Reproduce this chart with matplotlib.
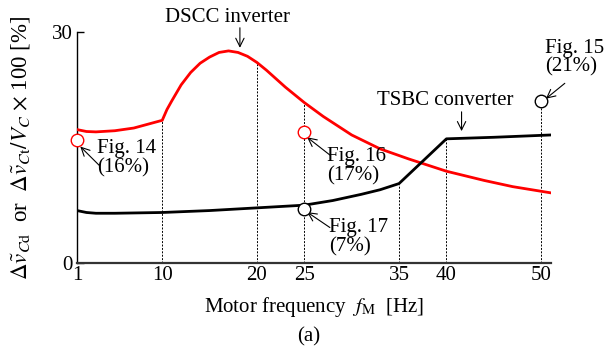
import numpy as np
import matplotlib
matplotlib.use("Agg")
import matplotlib.pyplot as plt

plt.rcParams["font.family"] = ["Liberation Serif", "DejaVu Serif"]
plt.rcParams["mathtext.fontset"] = "stix"
plt.rcParams["font.size"] = 15

# DSCC inverter ripple [%] vs motor frequency [Hz]
dscc_freq = [1, 2, 3, 5, 7, 10, 10.5, 11, 12, 13, 14, 15, 16, 17, 18, 19, 20,
             21, 22, 23, 25, 27, 30, 33, 36, 40, 44, 47, 51]
dscc_pct = [17.3, 17.05, 17.0, 17.15, 17.5, 18.5, 19.9, 21.0, 23.1, 24.7, 25.9,
            26.7, 27.3, 27.5, 27.3, 26.8, 26.0, 25.0, 23.9, 22.8, 20.8, 19.0,
            16.6, 14.8, 13.5, 11.9, 10.7, 9.9, 9.1]

# TSBC converter ripple [%]
tsbc_freq = [1, 2, 3, 5, 10, 15, 20, 25, 28, 31, 33, 35, 40, 45, 51]
tsbc_pct = [6.8, 6.55, 6.45, 6.45, 6.55, 6.8, 7.15, 7.5, 8.1, 8.9, 9.5, 10.3,
            16.1, 16.3, 16.6]

# measured operating points
fig_names = ["Fig. 14", "Fig. 15", "Fig. 16", "Fig. 17"]
fig_freq = [1, 50, 25, 25]
fig_pct = [16, 21, 17, 7]
fig_color = ["red", "black", "red", "black"]

xtick_vals = [1, 10, 20, 25, 35, 40, 50]
ytick_vals = [0, 30]

fig = plt.figure(figsize=(6.08, 3.49), dpi=100)
ax = fig.add_axes([0.1266, 0.2464, 0.779, 0.663])
ax.set_xlim(1, 51)
ax.set_ylim(0, 30)

# dotted guide lines
guides = [
    (10, np.interp(10, dscc_freq, dscc_pct)),
    (20, np.interp(20, dscc_freq, dscc_pct)),
    (25, np.interp(25, dscc_freq, dscc_pct)),
    (35, np.interp(35, tsbc_freq, tsbc_pct)),
    (40, np.interp(40, tsbc_freq, tsbc_pct)),
    (50, fig_pct[1]),
]
for gx, gtop in guides:
    ax.plot([gx, gx], [0, gtop], color="black", lw=0.7, ls=(0, (2, 1.5)), zorder=1)

ax.plot(dscc_freq, dscc_pct, color="red", lw=2.0, solid_joinstyle="round", zorder=3)
ax.plot(tsbc_freq, tsbc_pct, color="black", lw=2.0, solid_joinstyle="round", zorder=3)

for fx, fy, c in zip(fig_freq, fig_pct, fig_color):
    ax.plot(fx, fy, "o", ms=9, mfc="white", mec=c, mew=1.0, zorder=5, clip_on=False)

arrow = dict(arrowstyle="->", lw=0.8, color="black", shrinkA=0, shrinkB=0)

# curve labels
ax.text(16.9, 31.8, "DSCC inverter", ha="center", va="center")
ax.annotate("", xy=(18.2, 27.9), xytext=(18.2, 30.5), arrowprops=arrow,
            annotation_clip=False)
ax.text(39.9, 21.1, "TSBC converter", ha="center", va="center")
ax.annotate("", xy=(41.6, 17.1), xytext=(41.6, 19.6), arrowprops=arrow)

# operating point labels
fig_text_pos = [(3.1, 13.6), (50.4, 26.6), (27.4, 12.5), (27.6, 3.3)]
fig_arrow_tail = [(3.4, 12.6), (52.5, 23.3), (27.7, 14.0), (27.7, 4.6)]
fig_arrow_head = [(1.35, 15.1), (50.5, 21.3), (25.3, 16.3), (25.3, 6.6)]
for name, pct, (tx, ty), tail, head in zip(fig_names, fig_pct, fig_text_pos,
                                           fig_arrow_tail, fig_arrow_head):
    ax.text(tx, ty, f"{name}\n({pct}%)", ha="left", va="center", linespacing=1.0)
    ax.annotate("", xy=head, xytext=tail, arrowprops=arrow, annotation_clip=False)

for side in ["top", "right"]:
    ax.spines[side].set_visible(False)
ax.spines["left"].set_linewidth(1.0)
ax.spines["bottom"].set_linewidth(1.6)
ax.spines["bottom"].set_color("#333333")

ax.set_xticks(xtick_vals)
ax.set_yticks(ytick_vals)
ax.tick_params(axis="x", length=0, pad=2)
ax.tick_params(axis="y", direction="in", length=5, width=1.0, pad=3)

ax.set_xlabel(r"Motor frequency  $f_{\rm M}$  [Hz]", labelpad=7)
ax.set_ylabel(r"$\Delta\tilde{v}_{C{\rm d}}$  or  $\Delta\tilde{v}_{C{\rm t}}/V_C$ $\times$ 100 [%]",
              fontsize=16.5, labelpad=6)
ax.yaxis.set_label_coords(-0.095, 0.5)
fig.text(0.507, 0.035, "(a)", ha="center", va="center")

fig.savefig("out.png", dpi=100, facecolor="white")
